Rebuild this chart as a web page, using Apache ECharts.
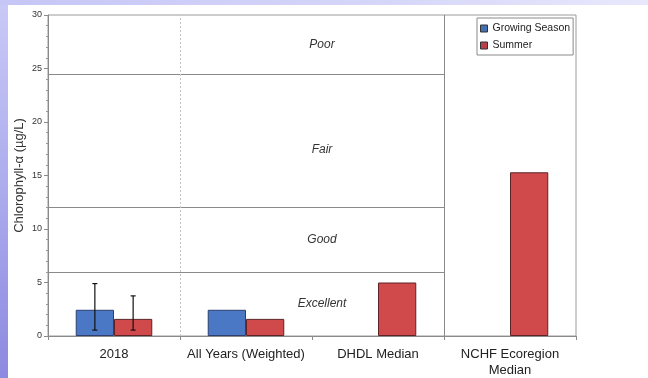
<!DOCTYPE html>
<html>
<head>
<meta charset="utf-8">
<script src="https://cdn.jsdelivr.net/npm/echarts@6/dist/echarts.min.js"></script>
<style>
  html, body { margin: 0; padding: 0; background: #ffffff; }
  #frame { position: relative; width: 648px; height: 378px; overflow: hidden; background: #ffffff; }
  #leftBand { position: absolute; left: 0; top: 0; width: 8px; height: 378px;
    background: linear-gradient(to bottom, #cacaf7 0%, #a9a8ec 55%, #8c89e0 100%); }
  #topBand { position: absolute; left: 0; top: 0; width: 648px; height: 5px;
    background: linear-gradient(to right, #c6c6f6 0%, #d6d6f9 60%, #e8e8fc 100%); }
  #chart { position: absolute; left: 0; top: 0; width: 648px; height: 378px; }
</style>
</head>
<body>
<div id="frame">
  <div id="leftBand"></div>
  <div id="topBand"></div>
  <div id="chart"></div>
</div>
<script>
// Chlorophyll-a summary by period / benchmark
const categories = ['2018', 'All Years (Weighted)', 'DHDL Median', 'NCHF Ecoregion\nMedian'];
const growingSeason = [2.45, 2.45, null, null];
const summer = [1.6, 1.6, 5.0, 15.3];
// error ranges (low, high) per category; null where none drawn
const growingErrLow = [0.55, null, null, null];
const growingErrHigh = [4.9, null, null, null];
const summerErrLow = [0.55, null, null, null];
const summerErrHigh = [3.75, null, null, null];
// trophic condition bands (µg/L)
const bandNames = ['Excellent', 'Good', 'Fair', 'Poor'];
const bandLimits = [0, 6, 12, 24.5, 30];
const yTicks = [0, 5, 10, 15, 20, 25, 30];

const FONT = '"Liberation Sans", Arial, sans-serif';
const CAT_GAP = 0.42;

function errData(low, high) {
  const out = [];
  low.forEach((l, i) => { if (l != null && high[i] != null) out.push([i, l, high[i]]); });
  return out;
}

function errRenderer(sign) {
  return function (params, api) {
    const idx = api.value(0);
    const catW = api.size([1, 0])[0];
    const barW = catW * (1 - CAT_GAP) / 2;
    const cx = api.coord([idx, 0])[0] + sign * barW / 2;
    const yLo = api.coord([idx, api.value(1)])[1];
    const yHi = api.coord([idx, api.value(2)])[1];
    const st = { stroke: '#111', lineWidth: 1.2 };
    return {
      type: 'group',
      children: [
        { type: 'line', shape: { x1: cx, y1: yLo, x2: cx, y2: yHi }, style: st },
        { type: 'line', shape: { x1: cx - 2.5, y1: yHi, x2: cx + 2.5, y2: yHi }, style: st },
        { type: 'line', shape: { x1: cx - 2.5, y1: yLo, x2: cx + 2.5, y2: yLo }, style: st }
      ]
    };
  };
}

// band threshold lines run across the first three categories
const thresholdLines = bandLimits.slice(1, 4).map(v => [
  { coord: [0, v] }, { coord: [3, v] }
]);
const bandAreas = bandNames.map((name, i) => [
  {
    name: name,
    coord: [1, bandLimits[i]],
    label: { offset: name === 'Fair' ? [10, 9] : [10, 0] }
  },
  { coord: [3, bandLimits[i + 1]] }
]);

const chart = echarts.init(document.getElementById('chart'), null, { renderer: 'canvas' });
chart.setOption({
  backgroundColor: 'transparent',
  animation: false,
  textStyle: { fontFamily: FONT },
  grid: {
    left: 48, right: 72, top: 15, bottom: 41,
    show: true, borderColor: '#9a9a9a', borderWidth: 1, backgroundColor: 'transparent'
  },
  legend: {
    left: 477, top: 18,
    orient: 'vertical',
    itemWidth: 7, itemHeight: 7, itemGap: 6,
    padding: [5, 3, 4, 3],
    borderColor: '#8a8a8a', borderWidth: 1,
    backgroundColor: '#ffffff',
    textStyle: { fontFamily: FONT, fontSize: 10.5, color: '#222' },
    data: [
      { name: 'Growing Season', icon: 'rect', itemStyle: { color: '#4570b0', borderColor: '#333', borderWidth: 1 } },
      { name: 'Summer', icon: 'rect', itemStyle: { color: '#b8404a', borderColor: '#333', borderWidth: 1 } }
    ]
  },
  xAxis: [
    {
      type: 'category',
      data: categories,
      axisLine: { lineStyle: { color: '#8a8a8a' } },
      axisTick: { show: true, length: 4, lineStyle: { color: '#8a8a8a' } },
      axisLabel: { interval: 0, color: '#222', fontSize: 13, fontFamily: FONT, margin: 10, lineHeight: 16 },
      splitLine: { show: false }
    },
    { type: 'value', min: 0, max: 4, show: false }
  ],
  yAxis: [
    {
      type: 'value',
      min: 0, max: 30, interval: 5,
      axisLine: { show: true, lineStyle: { color: '#8a8a8a' } },
      axisTick: { show: true, length: 4, lineStyle: { color: '#8a8a8a' } },
      minorTick: { show: true, splitNumber: 5, length: 2, lineStyle: { color: '#9a9a9a' } },
      axisLabel: {
        color: '#333', fontSize: 9, fontFamily: FONT, margin: 6,
        formatter: v => (yTicks.indexOf(v) >= 0 ? String(v) : '')
      },
      splitLine: { show: false }
    },
    {
      // carries only the axis title
      type: 'value',
      position: 'left',
      min: 0, max: 30, interval: 5,
      name: 'Chlorophyll-α (µg/L)',
      nameLocation: 'middle',
      nameGap: 22,
      nameTextStyle: { color: '#333', fontSize: 13, fontFamily: FONT },
      axisLine: { show: false },
      axisTick: { show: false },
      axisLabel: { show: false },
      splitLine: { show: false }
    }
  ],
  series: [
    {
      name: 'bands',
      type: 'line',
      xAxisIndex: 1,
      data: [],
      silent: true,
      markArea: {
        silent: true,
        itemStyle: { color: 'rgba(0,0,0,0)' },
        label: {
          show: true, position: 'inside',
          fontFamily: FONT, fontSize: 12, fontStyle: 'italic', color: '#333'
        },
        data: bandAreas
      },
      markLine: {
        silent: true,
        symbol: 'none',
        label: { show: false },
        data: [
          ...thresholdLines.map(d => [
            Object.assign({ lineStyle: { color: '#8a8a8a', width: 1, type: 'solid' } }, d[0]), d[1]
          ]),
          { xAxis: 1, lineStyle: { color: '#c4c4c4', width: 1, type: [2, 2] } },
          { xAxis: 3, lineStyle: { color: '#8a8a8a', width: 1, type: 'solid' } }
        ]
      }
    },
    {
      name: 'Growing Season',
      type: 'bar',
      data: growingSeason,
      barGap: '0%',
      barCategoryGap: (CAT_GAP * 100) + '%',
      itemStyle: { color: '#4a78c4', borderColor: '#2c3f70', borderWidth: 1 },
      z: 3
    },
    {
      name: 'Summer',
      type: 'bar',
      data: summer,
      barGap: '0%',
      barCategoryGap: (CAT_GAP * 100) + '%',
      itemStyle: { color: '#d04a4c', borderColor: '#5c2426', borderWidth: 1 },
      z: 3
    },
    {
      name: 'Growing Season range',
      type: 'custom',
      renderItem: errRenderer(-1),
      data: errData(growingErrLow, growingErrHigh),
      encode: { x: 0, y: [1, 2] },
      z: 5
    },
    {
      name: 'Summer range',
      type: 'custom',
      renderItem: errRenderer(1),
      data: errData(summerErrLow, summerErrHigh),
      encode: { x: 0, y: [1, 2] },
      z: 5
    }
  ]
});
</script>
</body>
</html>
